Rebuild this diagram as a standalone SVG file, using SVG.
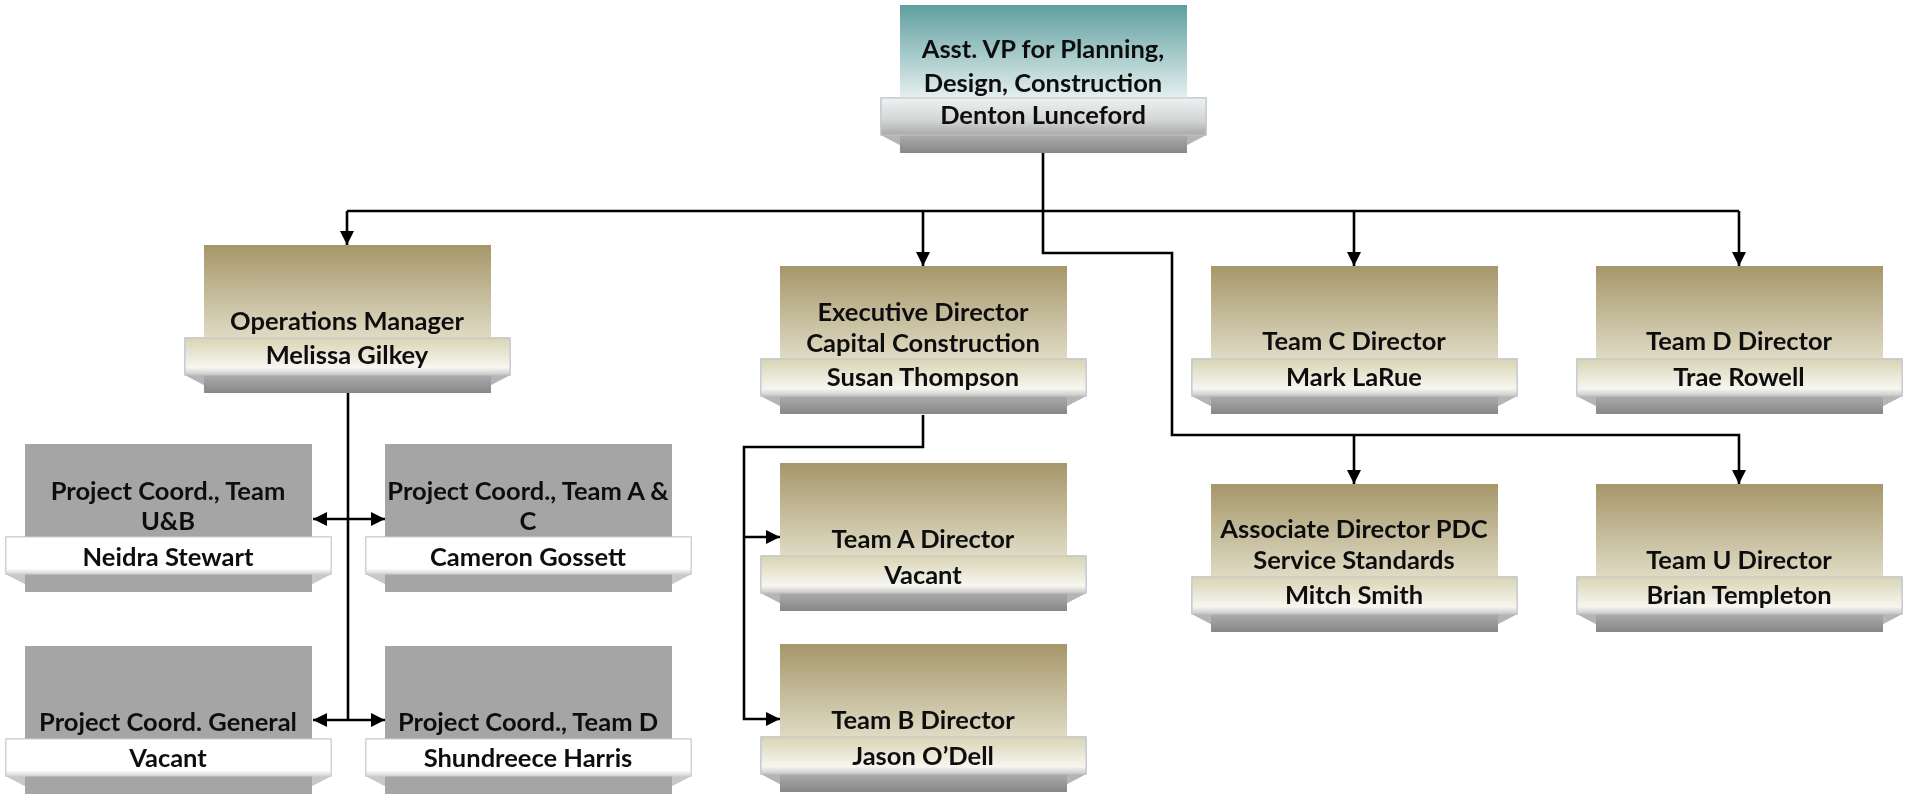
<svg xmlns="http://www.w3.org/2000/svg" xmlns:xlink="http://www.w3.org/1999/xlink" width="1910" height="797" viewBox="0 0 1910 797">
<style>
  .t{font-family:Lato,"Liberation Sans",sans-serif;font-weight:700;font-size:25.5px;fill:#111;text-anchor:middle}
  .c{fill:none;stroke:#000;stroke-width:2.6}
</style>
<defs>
  <linearGradient id="tan" x1="0" y1="0" x2="0" y2="1">
    <stop offset="0" stop-color="#a6976a"/>
    <stop offset="1" stop-color="#e0dcc6"/>
  </linearGradient>
  <linearGradient id="teal" x1="0" y1="0" x2="0" y2="1">
    <stop offset="0" stop-color="#5f9f9f"/>
    <stop offset="1" stop-color="#e8f1f1"/>
  </linearGradient>
  <linearGradient id="tanBand" x1="0" y1="0" x2="0" y2="1">
    <stop offset="0" stop-color="#d8d4b4"/>
    <stop offset="0.8" stop-color="#f7f6f0"/>
    <stop offset="1" stop-color="#c9c9c9"/>
  </linearGradient>
  <linearGradient id="greyBand" x1="0" y1="0" x2="0" y2="1">
    <stop offset="0" stop-color="#ffffff"/>
    <stop offset="0.85" stop-color="#ffffff"/>
    <stop offset="1" stop-color="#d6d6d6"/>
  </linearGradient>
  <linearGradient id="topBand" x1="0" y1="0" x2="0" y2="1">
    <stop offset="0" stop-color="#eef1f1"/>
    <stop offset="0.6" stop-color="#d4d6d6"/>
    <stop offset="1" stop-color="#a8a8a8"/>
  </linearGradient>
  <linearGradient id="dark" x1="0" y1="0" x2="0" y2="1">
    <stop offset="0" stop-color="#c4c4c4"/>
    <stop offset="1" stop-color="#878787"/>
  </linearGradient>
  <filter id="glow" x="-10%" y="-10%" width="120%" height="125%">
    <feGaussianBlur in="SourceAlpha" stdDeviation="3"/>
    <feOffset dy="2"/>
    <feComponentTransfer><feFuncA type="linear" slope="0.35"/></feComponentTransfer>
    <feFlood flood-color="#8fb0dc"/>
    <feComposite operator="in" in2="SourceGraphic"/>
    <feMerge><feMergeNode/><feMergeNode in="SourceGraphic"/></feMerge>
  </filter>
  <g id="tanShape">
    <rect x="0" y="118" width="287" height="30" fill="url(#dark)"/>
    <polygon points="-19,130 0,130 0,140" fill="#b5b5b5"/>
    <polygon points="306,130 287,130 287,140" fill="#b5b5b5"/>
    <rect x="0" y="0" width="287" height="95" fill="url(#tan)"/>
    <rect x="-19" y="93" width="325" height="37" fill="url(#tanBand)" stroke="#c4c4c4" stroke-width="1"/>
  </g>
  <g id="tealShape">
    <rect x="0" y="118" width="287" height="30" fill="url(#dark)"/>
    <polygon points="-19,130 0,130 0,140" fill="#b5b5b5"/>
    <polygon points="306,130 287,130 287,140" fill="#b5b5b5"/>
    <rect x="0" y="0" width="287" height="95" fill="url(#teal)"/>
    <rect x="-19" y="93" width="325" height="37" fill="url(#topBand)" stroke="#c4c4c4" stroke-width="1"/>
  </g>
  <g id="greyShape">
    <rect x="0" y="118" width="287" height="30" fill="#a5a5a5"/>
    <polygon points="-19,130 0,130 0,140" fill="#c8c8c8"/>
    <polygon points="306,130 287,130 287,140" fill="#c8c8c8"/>
    <rect x="0" y="0" width="287" height="95" fill="#a5a5a5"/>
    <rect x="-19" y="93" width="325" height="37" fill="url(#greyBand)" stroke="#d0d0d0" stroke-width="1"/>
  </g>
  <marker id="ah" viewBox="0 0 14 14" markerWidth="14" markerHeight="14" refX="14" refY="7" orient="auto-start-reverse" markerUnits="userSpaceOnUse">
    <path d="M0,0 L14,7 L0,14 z" fill="#000"/>
  </marker>
</defs>
<rect width="1910" height="797" fill="#fff"/>

<g id="connectors">
  <path class="c" d="M1043,153 V253 H1172 V435 H1739 V484" marker-end="url(#ah)"/>
  <path class="c" d="M1354,435 V484" marker-end="url(#ah)"/>
  <path class="c" d="M347,211 H1739"/>
  <path class="c" d="M347,211 V245" marker-end="url(#ah)"/>
  <path class="c" d="M923,211 V266" marker-end="url(#ah)"/>
  <path class="c" d="M1354,211 V266" marker-end="url(#ah)"/>
  <path class="c" d="M1739,211 V266" marker-end="url(#ah)"/>
  <path class="c" d="M923,415 V447 H744 V719 H780" marker-end="url(#ah)"/>
  <path class="c" d="M744,537 H780" marker-end="url(#ah)"/>
  <path class="c" d="M348,393 V720"/>
  <path class="c" d="M313,519 H385" marker-start="url(#ah)" marker-end="url(#ah)"/>
  <path class="c" d="M313,720 H385" marker-start="url(#ah)" marker-end="url(#ah)"/>
</g>

<g id="node-avp" filter="url(#glow)">
  <use xlink:href="#tealShape" x="900" y="5"/>
  <text class="t" x="1043" y="58">Asst. VP for Planning,</text>
  <text class="t" x="1043" y="92">Design, Construction</text>
  <text class="t" x="1043" y="124">Denton Lunceford</text>
</g>

<g id="node-ops" filter="url(#glow)">
  <use xlink:href="#tanShape" x="204" y="245"/>
  <text class="t" x="347" y="330">Operations Manager</text>
  <text class="t" x="347" y="364">Melissa Gilkey</text>
</g>

<g id="node-exec" filter="url(#glow)">
  <use xlink:href="#tanShape" x="780" y="266"/>
  <text class="t" x="923" y="321">Executive Director</text>
  <text class="t" x="923" y="352">Capital Construction</text>
  <text class="t" x="923" y="386">Susan Thompson</text>
</g>

<g id="node-teamc" filter="url(#glow)">
  <use xlink:href="#tanShape" x="1211" y="266"/>
  <text class="t" x="1354" y="350">Team C Director</text>
  <text class="t" x="1354" y="386">Mark LaRue</text>
</g>

<g id="node-teamd" filter="url(#glow)">
  <use xlink:href="#tanShape" x="1596" y="266"/>
  <text class="t" x="1739" y="350">Team D Director</text>
  <text class="t" x="1739" y="386">Trae Rowell</text>
</g>

<g id="node-teama" filter="url(#glow)">
  <use xlink:href="#tanShape" x="780" y="463"/>
  <text class="t" x="923" y="548">Team A Director</text>
  <text class="t" x="923" y="584">Vacant</text>
</g>

<g id="node-teamb" filter="url(#glow)">
  <use xlink:href="#tanShape" x="780" y="644"/>
  <text class="t" x="923" y="729">Team B Director</text>
  <text class="t" x="923" y="765">Jason O’Dell</text>
</g>

<g id="node-assoc" filter="url(#glow)">
  <use xlink:href="#tanShape" x="1211" y="484"/>
  <text class="t" x="1354" y="538">Associate Director PDC</text>
  <text class="t" x="1354" y="569">Service Standards</text>
  <text class="t" x="1354" y="604">Mitch Smith</text>
</g>

<g id="node-teamu" filter="url(#glow)">
  <use xlink:href="#tanShape" x="1596" y="484"/>
  <text class="t" x="1739" y="569">Team U Director</text>
  <text class="t" x="1739" y="604">Brian Templeton</text>
</g>

<g id="node-pc-ub" filter="url(#glow)">
  <use xlink:href="#greyShape" x="25" y="444"/>
  <text class="t" x="168" y="500">Project Coord., Team</text>
  <text class="t" x="168" y="530">U&amp;B</text>
  <text class="t" x="168" y="566">Neidra Stewart</text>
</g>

<g id="node-pc-ac" filter="url(#glow)">
  <use xlink:href="#greyShape" x="385" y="444"/>
  <text class="t" x="528" y="500">Project Coord., Team A &amp;</text>
  <text class="t" x="528" y="530">C</text>
  <text class="t" x="528" y="566">Cameron Gossett</text>
</g>

<g id="node-pc-gen" filter="url(#glow)">
  <use xlink:href="#greyShape" x="25" y="646"/>
  <text class="t" x="168" y="731">Project Coord. General</text>
  <text class="t" x="168" y="767">Vacant</text>
</g>

<g id="node-pc-d" filter="url(#glow)">
  <use xlink:href="#greyShape" x="385" y="646"/>
  <text class="t" x="528" y="731">Project Coord., Team D</text>
  <text class="t" x="528" y="767">Shundreece Harris</text>
</g>
</svg>
